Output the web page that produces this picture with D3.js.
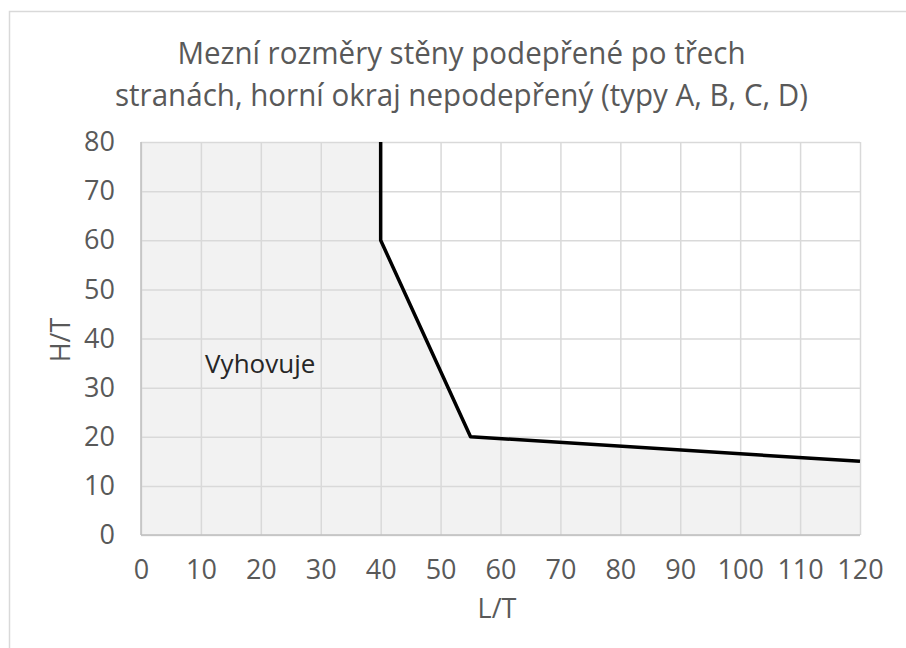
<!DOCTYPE html>
<html>
<head>
<meta charset="utf-8">
<script src="https://cdn.jsdelivr.net/npm/d3@7"></script>
<style>
  html, body { margin: 0; padding: 0; background: #fff; }
  svg { display: block; }
</style>
</head>
<body>
<svg id="chart" width="906" height="648"></svg>
<script>
// Limit curve: L/T against H/T
const limitLT = [40, 40, 55, 120];
const limitHT = [80, 60, 20, 15];
const xTicks = [0, 10, 20, 30, 40, 50, 60, 70, 80, 90, 100, 110, 120];
const yTicks = [0, 10, 20, 30, 40, 50, 60, 70, 80];
const titleLines = ["Mezní rozměry stěny podepřené po třech", "stranách, horní okraj nepodepřený (typy A, B, C, D)"];
const regionLabel = "Vyhovuje";
const regionLabelPos = [10.7, 33];

const svg = d3.select("#chart");
const W = 906, H = 648;
const plot = { left: 141, right: 860, top: 142, bottom: 535 };
const font = "'Open Sans', 'DejaVu Sans', sans-serif";
const grey = "#595959";

// outer frame
svg.append("rect")
  .attr("x", 9.5).attr("y", 11.5)
  .attr("width", W + 10).attr("height", H + 10)
  .attr("fill", "#fff").attr("stroke", "#d9d9d9").attr("stroke-width", 1.5);

const x = d3.scaleLinear().domain([0, 120]).range([plot.left, plot.right]);
const y = d3.scaleLinear().domain([0, 80]).range([plot.bottom, plot.top]);

const pts = limitLT.map((v, i) => [v, limitHT[i]]);
const line = d3.line().x(d => x(d[0])).y(d => y(d[1]));

// shaded admissible region under the limit curve
const regionPts = [[0, 80], ...pts, [120, 0], [0, 0]];
svg.append("path")
  .attr("d", line(regionPts) + "Z")
  .attr("fill", "#f2f2f2");

// gridlines
svg.append("g")
  .attr("transform", `translate(0,${plot.bottom})`)
  .call(d3.axisBottom(x).tickValues(xTicks).tickSize(-(plot.bottom - plot.top)).tickFormat(""))
  .call(g => g.select(".domain").remove())
  .call(g => g.selectAll("line").attr("stroke", "#d9d9d9").attr("stroke-width", 1.5));
svg.append("g")
  .attr("transform", `translate(${plot.left},0)`)
  .call(d3.axisLeft(y).tickValues(yTicks).tickSize(-(plot.right - plot.left)).tickFormat(""))
  .call(g => g.select(".domain").remove())
  .call(g => g.selectAll("line").attr("stroke", "#d9d9d9").attr("stroke-width", 1.5));

// axis lines
svg.append("line")
  .attr("x1", plot.left).attr("x2", plot.right)
  .attr("y1", plot.bottom).attr("y2", plot.bottom)
  .attr("stroke", "#bfbfbf").attr("stroke-width", 1.5);
svg.append("line")
  .attr("x1", plot.left).attr("x2", plot.left)
  .attr("y1", plot.top).attr("y2", plot.bottom)
  .attr("stroke", "#bfbfbf").attr("stroke-width", 1.5);

// tick labels
const xAxis = svg.append("g")
  .attr("transform", `translate(0,${plot.bottom})`)
  .call(d3.axisBottom(x).tickValues(xTicks).tickSize(0).tickPadding(25));
xAxis.select(".domain").remove();
xAxis.selectAll("text").attr("font-family", font).attr("font-size", 27).attr("fill", grey);

const yAxis = svg.append("g")
  .attr("transform", `translate(${plot.left},0)`)
  .call(d3.axisLeft(y).tickValues(yTicks).tickSize(0).tickPadding(26));
yAxis.select(".domain").remove();
yAxis.selectAll("text").attr("font-family", font).attr("font-size", 27).attr("fill", grey);

// limit curve
svg.append("path")
  .attr("d", line(pts))
  .attr("fill", "none").attr("stroke", "#000").attr("stroke-width", 3.5)
  .attr("stroke-linejoin", "round");

// region label
svg.append("text")
  .attr("x", x(regionLabelPos[0])).attr("y", y(regionLabelPos[1]))
  .attr("font-family", font).attr("font-size", 26).attr("fill", "#262626")
  .text(regionLabel);

// axis titles
svg.append("text")
  .attr("x", 497).attr("y", 618)
  .attr("text-anchor", "middle")
  .attr("font-family", font).attr("font-size", 27).attr("fill", grey)
  .text("L/T");
svg.append("text")
  .attr("transform", `translate(70,340) rotate(-90)`)
  .attr("text-anchor", "middle")
  .attr("font-family", font).attr("font-size", 27).attr("fill", grey)
  .text("H/T");

// chart title, two condensed lines
const titleWidths = [568, 693];
titleLines.forEach((t, i) => {
  svg.append("text")
    .attr("x", 461.5).attr("y", 64 + i * 42)
    .attr("text-anchor", "middle")
    .attr("font-family", font).attr("font-size", 31).attr("fill", grey)
    .attr("textLength", titleWidths[i])
    .attr("lengthAdjust", "spacingAndGlyphs")
    .text(t);
});
</script>
</body>
</html>
